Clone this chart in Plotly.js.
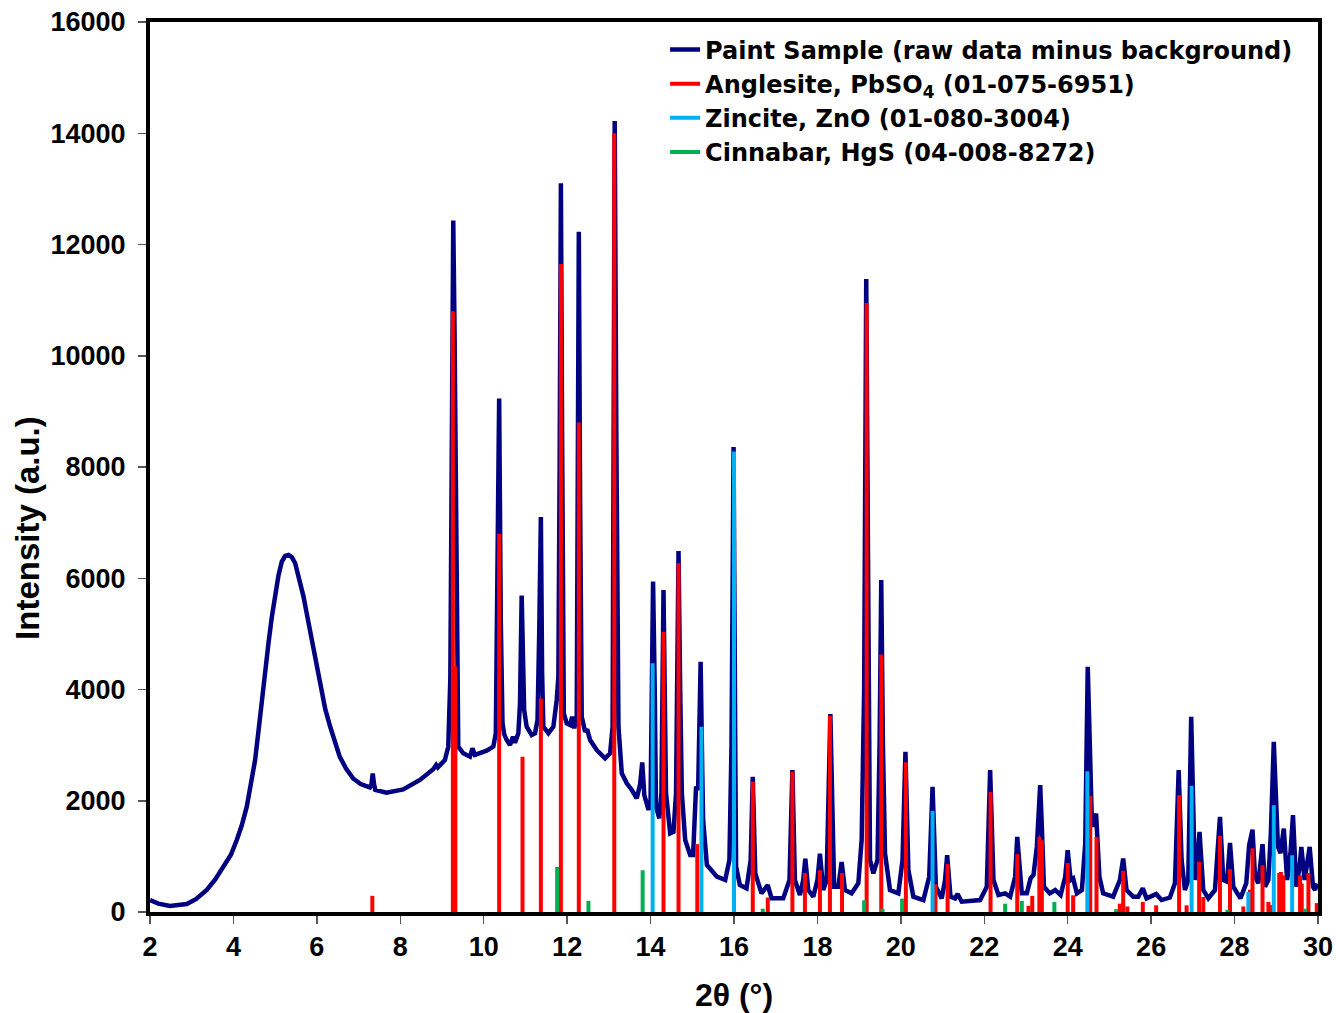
<!DOCTYPE html>
<html>
<head>
<meta charset="utf-8">
<script src="https://cdn.plot.ly/plotly-3.0.1.min.js"></script>
<style>html,body{margin:0;padding:0;background:#fff;}#chart{width:1336px;height:1013px;}</style>
</head>
<body>
<div id="chart"></div>
<script>
// Paint sample pattern (2θ, intensity)
const sampleX = [2.00,2.20,2.48,2.88,3.10,3.36,3.56,3.76,3.94,4.08,4.20,4.32,4.42,4.52,4.60,4.68,4.76,4.84,4.92,5.00,5.08,5.16,5.24,5.32,5.40,5.48,5.58,5.68,5.78,5.88,5.98,6.08,6.20,6.32,6.44,6.55,6.70,6.87,7.05,7.27,7.31,7.34,7.37,7.40,7.67,8.07,8.47,8.79,8.86,8.90,9.07,9.15,9.20,9.24,9.27,9.30,9.33,9.35,9.37,9.39,9.51,9.67,9.73,9.79,10.07,10.23,10.29,10.33,10.37,10.41,10.45,10.49,10.55,10.63,10.70,10.75,10.83,10.87,10.91,10.95,10.97,11.03,11.15,11.23,11.29,11.33,11.37,11.40,11.43,11.55,11.67,11.75,11.79,11.82,11.85,11.88,11.90,11.92,11.99,12.07,12.12,12.17,12.23,12.25,12.28,12.31,12.35,12.43,12.48,12.55,12.71,12.91,13.03,13.09,13.11,13.14,13.18,13.23,13.31,13.43,13.55,13.67,13.75,13.80,13.85,13.95,14.00,14.03,14.06,14.10,14.13,14.21,14.26,14.31,14.34,14.37,14.47,14.55,14.61,14.64,14.67,14.71,14.75,14.83,14.95,15.02,15.09,15.14,15.20,15.24,15.26,15.35,15.59,15.79,15.89,15.94,15.99,16.03,16.05,16.14,16.30,16.40,16.45,16.51,16.66,16.81,16.90,17.18,17.33,17.40,17.46,17.58,17.66,17.71,17.78,17.90,18.00,18.06,18.14,18.22,18.31,18.40,18.50,18.58,18.66,18.82,18.98,19.06,19.12,19.17,19.22,19.26,19.34,19.44,19.49,19.53,19.57,19.62,19.74,19.94,20.04,20.11,20.18,20.30,20.54,20.68,20.76,20.84,20.98,21.06,21.11,21.19,21.30,21.36,21.46,21.90,22.06,22.14,22.22,22.34,22.50,22.62,22.74,22.79,22.90,23.02,23.11,23.18,23.26,23.34,23.38,23.43,23.57,23.70,23.83,23.94,24.00,24.07,24.13,24.22,24.34,24.42,24.48,24.53,24.58,24.61,24.68,24.76,24.85,25.09,25.25,25.33,25.41,25.57,25.69,25.80,25.89,26.01,26.12,26.25,26.45,26.57,26.66,26.73,26.81,26.89,26.96,27.05,27.11,27.16,27.25,27.37,27.53,27.60,27.65,27.73,27.82,27.89,27.97,28.14,28.28,28.35,28.43,28.49,28.57,28.67,28.73,28.81,28.87,28.94,29.04,29.10,29.18,29.26,29.34,29.40,29.48,29.56,29.60,29.68,29.80,29.88,29.93,29.97];
const sampleY = [216,150,108,144,230,396,580,815,1030,1294,1560,1893,2280,2733,3250,3811,4340,4830,5300,5730,6050,6300,6400,6418,6380,6270,6000,5670,5280,4890,4460,4050,3650,3330,3030,2790,2580,2400,2300,2240,2300,2490,2300,2193,2145,2205,2373,2565,2643,2600,2733,2972,4200,9500,12430,10500,8200,4800,3500,2972,2853,2793,2943,2823,2900,2972,3212,5500,9230,5200,3400,3200,3092,3002,3152,3044,3212,3752,5690,4300,3631,3331,3182,3212,3452,5000,7100,4300,3331,3212,3331,3811,4230,8000,13100,8500,4400,3571,3391,3362,3511,3302,3511,7000,12230,7500,3511,3241,3284,3092,2912,2763,2853,3331,8000,14220,8500,3331,2493,2313,2193,2044,2300,2690,2100,1834,2013,4000,5940,4000,1893,1684,2133,5790,3800,2133,1415,1444,2133,4500,6490,4000,2133,1294,1025,1025,2253,2193,4500,2500,1654,845,635,575,935,3000,8360,3000,815,485,425,935,2430,695,335,485,245,245,575,2550,575,305,575,960,395,275,575,1050,395,575,3560,455,455,900,395,335,515,1294,4000,11380,4000,935,695,935,3000,5970,3000,1055,395,335,935,2880,755,275,215,635,2250,455,245,575,1020,275,245,324,185,215,455,2550,575,305,335,275,635,1350,335,335,605,665,1175,2280,1535,455,335,395,305,635,1110,575,605,335,395,1235,4410,2853,1595,1535,1770,635,335,275,575,960,395,275,275,425,245,285,324,215,260,515,2550,935,395,575,3510,575,935,1440,395,245,395,1175,1710,575,545,1240,455,245,515,1205,1480,635,515,1220,455,575,1415,3060,1175,1055,1500,575,1055,1740,455,815,1170,575,1170,455,395,515];

// Reference stick patterns
const anglesiteX = [7.33,9.26,9.32,10.37,10.93,11.37,11.85,12.28,13.13,14.31,14.67,15.12,16.45,16.81,17.40,17.70,18.06,18.30,18.59,19.18,19.53,20.12,20.83,21.12,22.15,22.79,23.06,23.15,23.32,23.38,24.00,24.13,24.54,24.69,25.25,25.33,25.43,25.80,26.12,26.67,26.85,27.15,27.25,27.65,27.89,28.21,28.37,28.43,28.67,28.81,28.85,29.07,29.11,29.17,29.57,29.61,29.77,29.97];
const anglesiteY = [290,10800,4420,6800,2790,3840,11650,8800,14000,5040,6270,1220,2340,260,2520,700,750,3530,700,10950,4630,2690,500,860,2160,1040,110,290,1350,1290,880,300,2090,1350,150,740,100,180,120,2100,120,900,270,1370,770,100,400,1145,840,180,125,700,720,660,660,510,700,160];
const zinciteX = [14.05,15.22,16.00,20.76,24.47,26.97,28.33,28.94,29.38];
const zinciteY = [4470,3330,8280,1820,2530,2270,360,1920,1020];
const cinnabarX = [11.76,12.51,13.81,16.69,19.12,19.56,20.03,22.50,22.90,23.68,25.16,27.83,29.69];
const cinnabarY = [810,200,750,60,210,60,240,150,200,180,50,40,60];

const names = ['Paint Sample (raw data minus background)','Anglesite, PbSO<sub>4</sub> (01-075-6951)','Zincite, ZnO (01-080-3004)','Cinnabar, HgS (04-008-8272)'];
const xTitle = '2θ (°)';
const yTitle = 'Intensity (a.u.)';

function sticks(xs, ys) {
  const x = [], y = [];
  xs.forEach((v, i) => { x.push(v, v, null); y.push(0, ys[i], null); });
  return {x, y};
}
const a = sticks(anglesiteX, anglesiteY);
const z = sticks(zinciteX, zinciteY);
const c = sticks(cinnabarX, cinnabarY);

const FONT = 'Liberation Sans, Arial, sans-serif';
const LFONT = 'DejaVu Sans, Liberation Sans, sans-serif';
const traces = [
  {x: sampleX, y: sampleY, mode: 'lines', name: names[0], line: {color: '#000080', width: 4.5}},
  {x: a.x, y: a.y, mode: 'lines', name: names[1], line: {color: '#FF0000', width: 4}},
  {x: z.x, y: z.y, mode: 'lines', name: names[2], line: {color: '#00B0F0', width: 4}},
  {x: c.x, y: c.y, mode: 'lines', name: names[3], line: {color: '#00B050', width: 4}}
];

const layout = {
  width: 1336, height: 1013,
  margin: {l: 150, r: 18, t: 22, b: 101},
  paper_bgcolor: '#fff', plot_bgcolor: '#fff',
  font: {family: FONT, color: '#000'},
  showlegend: true,
  legend: {x: 0.441, y: 0.994, xanchor: 'left', yanchor: 'top', bgcolor: 'rgba(0,0,0,0)',
           font: {family: LFONT, size: 24, weight: 'bold', color: '#000'}, tracegroupgap: 0},
  xaxis: {range: [2, 30], dtick: 2, tick0: 2, showgrid: false, zeroline: false,
          showline: true, linecolor: '#000', linewidth: 4, mirror: true,
          ticks: 'outside', ticklen: 8, tickwidth: 1.5, tickcolor: '#555',
          ticklabelstandoff: 0, tickformat: 'd',
          tickfont: {family: FONT, size: 27, weight: 'bold', color: '#000'},
          title: {text: xTitle, font: {family: FONT, size: 32, weight: 'bold', color: '#000'}, standoff: 23}},
  yaxis: {range: [0, 16000], dtick: 2000, showgrid: false, zeroline: false,
          showline: true, linecolor: '#000', linewidth: 4, mirror: true,
          ticks: 'outside', ticklen: 8, tickwidth: 1.5, tickcolor: '#555',
          ticklabelstandoff: 7, tickformat: 'd',
          tickfont: {family: FONT, size: 27, weight: 'bold', color: '#000'}},
  annotations: [{text: yTitle, xref: 'paper', yref: 'paper', x: -0.1045, y: 0.4315,
                 xanchor: 'center', yanchor: 'middle', textangle: -90, showarrow: false,
                 font: {family: FONT, size: 33, weight: 'bold', color: '#000'}}]
};

Plotly.newPlot('chart', traces, layout, {staticPlot: true, displayModeBar: false});
</script>
</body>
</html>
